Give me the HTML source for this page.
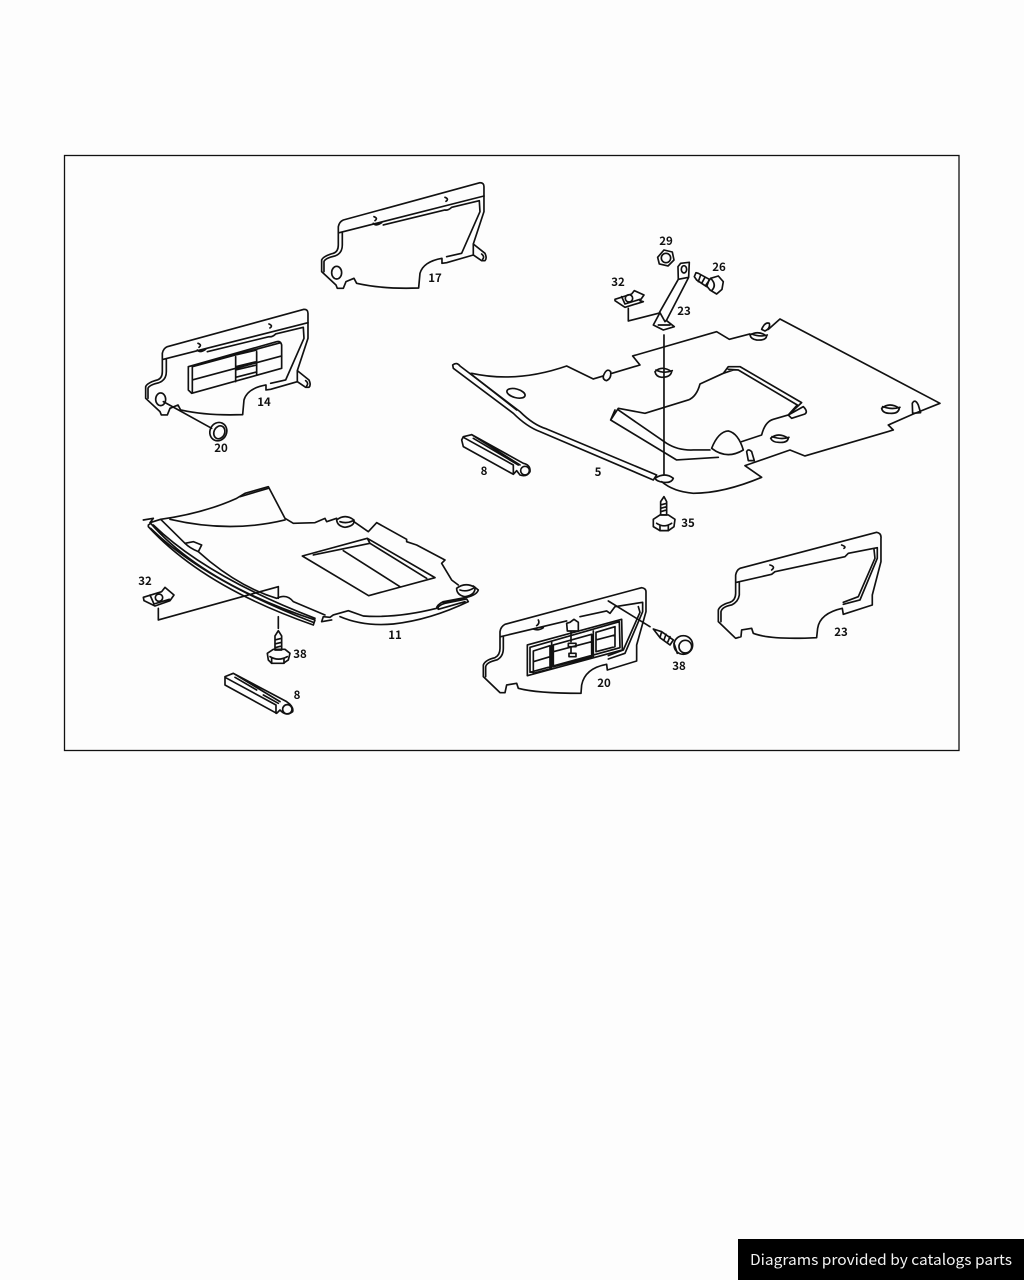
<!DOCTYPE html>
<html><head><meta charset="utf-8"><style>
html,body{margin:0;padding:0;background:#fdfdfd}
svg{display:block}
.z{fill:none;stroke:#111;stroke-width:5;stroke-linejoin:round;stroke-linecap:round}
.w{fill:#fdfdfd}
.t{font:700 11.5px "Noto Sans CJK JP","Liberation Sans",sans-serif;fill:#111;text-anchor:middle}
</style></head><body>
<svg width="1024" height="1280" viewBox="0 0 1024 1280" xmlns="http://www.w3.org/2000/svg">
<rect width="1024" height="1280" fill="#fdfdfd"/>
<rect x="64.5" y="155.5" width="894.5" height="595" fill="none" stroke="#111" stroke-width="1.3"/>

<!-- Part 5 and hardware -->
<g class="z" transform="translate(440 230) scale(.3333)">
<path d="M95,430Q230,460 380,408L460,447L490,438M516,430L600,405L578,378L830,305L868,328L930,312M985,298L1020,267L1500,520L1420,552L1345,585L1360,600L1095,678L1050,660L915,707L965,742Q850,790 760,790Q700,785 665,755"/>
<path d="M38,405Q50,395 60,408L240,545Q280,585 320,597L650,735L640,750L300,605Q260,590 220,550L40,415Z"/>
<path d="M90,430L230,540"/>
<path d="M490,438Q500,412 512,425Q515,445 500,452Q488,450 490,438Z"/>
<path d="M965,298Q975,275 988,280Q992,295 975,303Z"/>
<ellipse cx="228" cy="490" rx="28" ry="13" transform="rotate(15 228 490)"/>
<path d="M645,425Q665,405 695,425Q692,442 665,442Q648,440 645,425ZM648,420Q672,432 697,422"/>
<path d="M930,315Q955,300 980,318Q978,332 950,330Q933,328 930,315ZM935,312Q960,322 982,315"/>
<path d="M992,625Q1015,605 1045,625Q1042,640 1015,637Q998,637 992,625ZM996,620Q1025,630 1047,622"/>
<path d="M1325,535Q1350,515 1378,535Q1375,552 1350,550Q1328,550 1325,535ZM1328,530Q1355,540 1380,532"/>
<path d="M1417,520Q1425,505 1435,525L1442,548L1418,550Z"/>
<path d="M920,665Q925,655 935,665L943,692L925,692Z"/>
<path d="M815,655Q835,605 865,603Q895,610 910,660Q860,690 815,655Z"/>
<path d="M905,635L965,615Q975,575 1000,568L1045,555L1090,530Q1105,545 1095,552L1055,565L1045,555L1085,518L900,410L865,410L850,430L780,462Q770,500 745,510L615,550L535,535L512,570L710,690L835,682M525,540L512,570M535,540L680,640Q715,662 760,660L810,660M865,418L895,420L1072,525L1045,555M850,430L880,420"/>
<path d="M672,315V735"/>
<path d="M645,745Q675,725 700,745Q695,760 670,757Q650,755 645,745Z"/>
<!-- bar 8 -->
<path d="M70,620L95,614L250,700Q272,705 270,725Q260,742 240,735L230,722L220,733L70,650L65,630ZM70,622L220,705L220,733M95,614L240,705M100,625L235,705"/>
<circle cx="255" cy="722" r="13"/>
<!-- nut 29 -->
<path d="M653,82L672,60L697,66L702,90L684,108L658,102Z"/><circle cx="678" cy="84" r="14"/>
<!-- bracket 23 -->
<path d="M714,110L722,100L748,97L746,142L715,148ZM715,148L658,248M746,142L680,270L675,275L660,248L640,285L670,300L703,290L680,272"/>
<ellipse cx="732" cy="118" rx="8" ry="11"/>
<path d="M655,285L690,285"/>
<!-- bolt 26 -->
<path d="M768,128L775,130L808,148L800,170L770,150L763,140ZM782,135L775,155M795,142L785,160"/>
<path d="M812,145L835,138L850,155L846,178L830,192L810,180L798,165Z"/><path d="M812,145Q832,165 815,182"/>
<!-- clip 32 top -->
<path d="M525,208L575,192L583,182L612,195L600,212L610,215L555,232L525,212ZM545,200L555,222L600,208"/><circle cx="567" cy="205" r="11"/>
<path d="M565,235V273L655,250"/>
<!-- screw 35 -->
<path d="M672,800L680,815V855H662V815ZM662,825L680,820M662,835L680,830M662,845L680,840"/>
<path d="M640,868L660,855H685L705,868L702,890L685,902H660L640,890Z"/><path d="M650,880Q672,895 695,880M660,902V888M685,902V888"/>
</g>

<!-- Part 17 -->
<g class="z" transform="translate(130 170) scale(.3333)">
<path class="w" d="M640,150L1050,38Q1062,38 1062,50V125L1030,222L1065,250Q1072,265 1065,272H1055L1030,255L950,278L936,280V265Q880,275 870,310L866,354Q760,358 680,340L672,325L648,335L640,355H622L618,345L575,305V270Q580,258 610,250Q625,245 625,225V170Q628,155 640,150Z"/>
<path d="M628,188L1062,78M637,187V225Q637,250 615,258Q585,265 582,275V305M760,165L945,120Q955,122 965,112L1048,92L1050,125L995,250L950,260M730,160Q738,170 755,158M1030,222V255"/>
<path d="M732,140Q745,145 735,152M945,82Q958,87 948,94M1055,252Q1065,260 1058,268"/>
<ellipse cx="620" cy="308" rx="15" ry="19"/>
<!-- Part 14 -->
<g transform="translate(-528 380)">
<path class="w" d="M640,150L1050,38Q1062,38 1062,50V125L1030,222L1065,250Q1072,265 1065,272H1055L1030,255L950,278L936,280V265Q880,275 870,310L866,354Q760,358 680,340L672,325L648,335L640,355H622L618,345L575,305V270Q580,258 610,250Q625,245 625,225V170Q628,155 640,150Z"/>
<path d="M628,188L1062,78M637,187V225Q637,250 615,258Q585,265 582,275V305M760,165L945,120Q955,122 965,112L1048,92L1050,125L995,250L950,260M730,160Q738,170 755,158M1030,222V255"/>
<path d="M732,140Q745,145 735,152M945,82Q958,87 948,94M1055,252Q1065,260 1058,268"/>
<ellipse cx="620" cy="308" rx="15" ry="19"/>
</g>
<path d="M175,590L440,515Q452,512 455,525V595L185,670L175,660ZM187,590L452,518M187,590V668M187,630L455,558M317,560V635M380,545V615M317,590L380,575M317,600L380,585M317,622L380,606M317,555L380,540"/>
<path d="M100,695L245,775"/>
<ellipse cx="265" cy="785" rx="25" ry="28" transform="rotate(25 265 785)"/>
<ellipse cx="268" cy="787" rx="16" ry="20" transform="rotate(25 268 787)"/>
</g>

<!-- Part 11 and hardware -->
<g class="z" transform="translate(130 480) scale(.3333)">
<path d="M92,118Q220,100 320,55L345,40L415,20L465,115L490,130L555,128L585,115L590,125L620,115M672,125L715,155L740,128L830,178V185L860,195L945,240L935,250L965,300L985,315M1030,318L1045,330Q1040,345 1010,352L940,365Q920,375 920,385Q800,415 700,408L655,392L610,405L600,412L580,410L575,425L605,420"/>
<path d="M120,118Q300,160 465,120M330,50L415,25"/>
<path d="M40,120L70,115L60,128L92,118L165,190L190,185L215,195L205,215L240,245Q340,325 440,355Q470,340 490,365L585,405"/>
<path d="M55,135L62,130Q220,310 555,420L550,435Q220,320 55,140ZM70,135Q230,290 555,415M62,145Q220,300 552,428"/>
<path d="M165,190Q180,205 205,215"/>
<path d="M620,120Q645,100 672,120Q675,138 645,142Q622,138 620,120ZM630,125Q650,132 670,122"/>
<path d="M980,325Q1005,305 1035,322Q1037,345 1005,350Q980,345 980,325ZM990,330Q1010,337 1030,325"/>
<path d="M517,228L712,175L915,293L716,347ZM640,212L810,320M550,225L720,190L890,295M712,175L720,190"/>
<path d="M630,410Q700,440 790,432Q900,420 1015,365L1010,357L945,370Q920,378 925,388L1005,365M940,368L1000,358"/>
<path d="M85,385V420L445,320V355M445,410V445"/>
<!-- clip 32 -->
<path d="M40,352L95,335L105,322L132,345L120,362L75,378L42,362ZM60,345L72,372L118,358"/><circle cx="87" cy="353" r="11"/>
<!-- screw 38 -->
<path d="M445,452L455,468V510H435V468ZM435,480L455,475M435,492L455,487M435,503L455,498"/>
<path d="M412,520L430,508H465L480,520L475,540L460,550H425L415,540Z"/><path d="M420,530Q445,545 472,530M425,550V535M462,550V535"/>
<!-- bar 8 -->
<path d="M285,590L310,580L470,665Q492,680 488,695Q470,708 455,695L450,690L440,700L285,615ZM285,592L438,675V700M310,580L450,665M315,592L380,630M400,645L445,670"/>
<circle cx="472" cy="688" r="14"/>
</g>

<!-- Part 20, 23 -->
<g class="z" transform="translate(470 525) scale(.3333)">
<path d="M105,298L515,188Q528,190 528,200V260L500,360V408L412,435L410,418Q345,430 335,480L333,505Q200,505 145,490L140,475L110,480L105,503H90L40,455V420Q45,405 75,398Q90,390 90,370V320Q92,305 105,298Z"/>
<path d="M92,335L290,288M330,275L410,258L420,265L435,245L518,232V260L465,385L415,402M505,245L510,262L460,375L415,392M100,335V370Q100,395 80,405Q50,412 47,425V455M200,302Q210,295 205,285M190,312Q205,318 220,308"/>
<path d="M172,360L455,283L457,375L172,452ZM180,367L448,290L450,368L180,442ZM190,378L240,362V432L190,445ZM250,360L365,328V395L250,425ZM378,322L435,305V365L378,380ZM190,410L240,395M250,380L365,350M378,345L435,330M245,350V430M370,318V398"/>
<path d="M290,295L300,292L312,283L325,292V318H292ZM303,320V350M295,355H318V365H295ZM303,365V385M297,385H318V395H297Z"/>
<path d="M415,228L540,305"/>
<path d="M550,312L575,320L610,345L600,360L570,338ZM575,320L570,338M588,328L582,345M600,335L593,352"/>
<circle cx="640" cy="360" r="28"/><circle cx="646" cy="365" r="19"/>
<path d="M612,355L622,385"/>
<path d="M810,130L1220,22Q1235,25 1233,40V110L1207,210V240L1120,268L1117,250Q1050,265 1043,310L1040,338Q900,345 850,325L845,310L815,315L813,335L797,340L745,290V255Q750,240 780,232Q797,225 797,205V150Q800,135 810,130Z"/>
<path d="M800,172L905,148L915,140L1125,95L1135,85L1222,68V100L1170,225L1120,238M1212,72L1215,100L1165,215L1120,232M808,170V210Q805,230 785,240Q757,245 753,260V290M900,120Q918,125 905,135M1115,60Q1130,65 1122,70"/>
</g>

<g>
<text class="t" x="435" y="282">17</text>
<text class="t" x="264" y="406">14</text>
<text class="t" x="221" y="452">20</text>
<text class="t" x="666" y="245">29</text>
<text class="t" x="719" y="271">26</text>
<text class="t" x="618" y="286">32</text>
<text class="t" x="684" y="315">23</text>
<text class="t" x="484" y="475">8</text>
<text class="t" x="598" y="476">5</text>
<text class="t" x="688" y="527">35</text>
<text class="t" x="145" y="585">32</text>
<text class="t" x="300" y="658">38</text>
<text class="t" x="395" y="639">11</text>
<text class="t" x="297" y="699">8</text>
<text class="t" x="604" y="687">20</text>
<text class="t" x="679" y="670">38</text>
<text class="t" x="841" y="636">23</text>
</g>

<rect x="738" y="1239" width="286" height="41" fill="#000"/>
<text x="750" y="1265" fill="#f2f2f2" font-family="'Noto Sans CJK JP','DejaVu Sans',sans-serif" font-size="15" textLength="262" lengthAdjust="spacingAndGlyphs">Diagrams provided by catalogs parts</text>
</svg>
</body></html>
